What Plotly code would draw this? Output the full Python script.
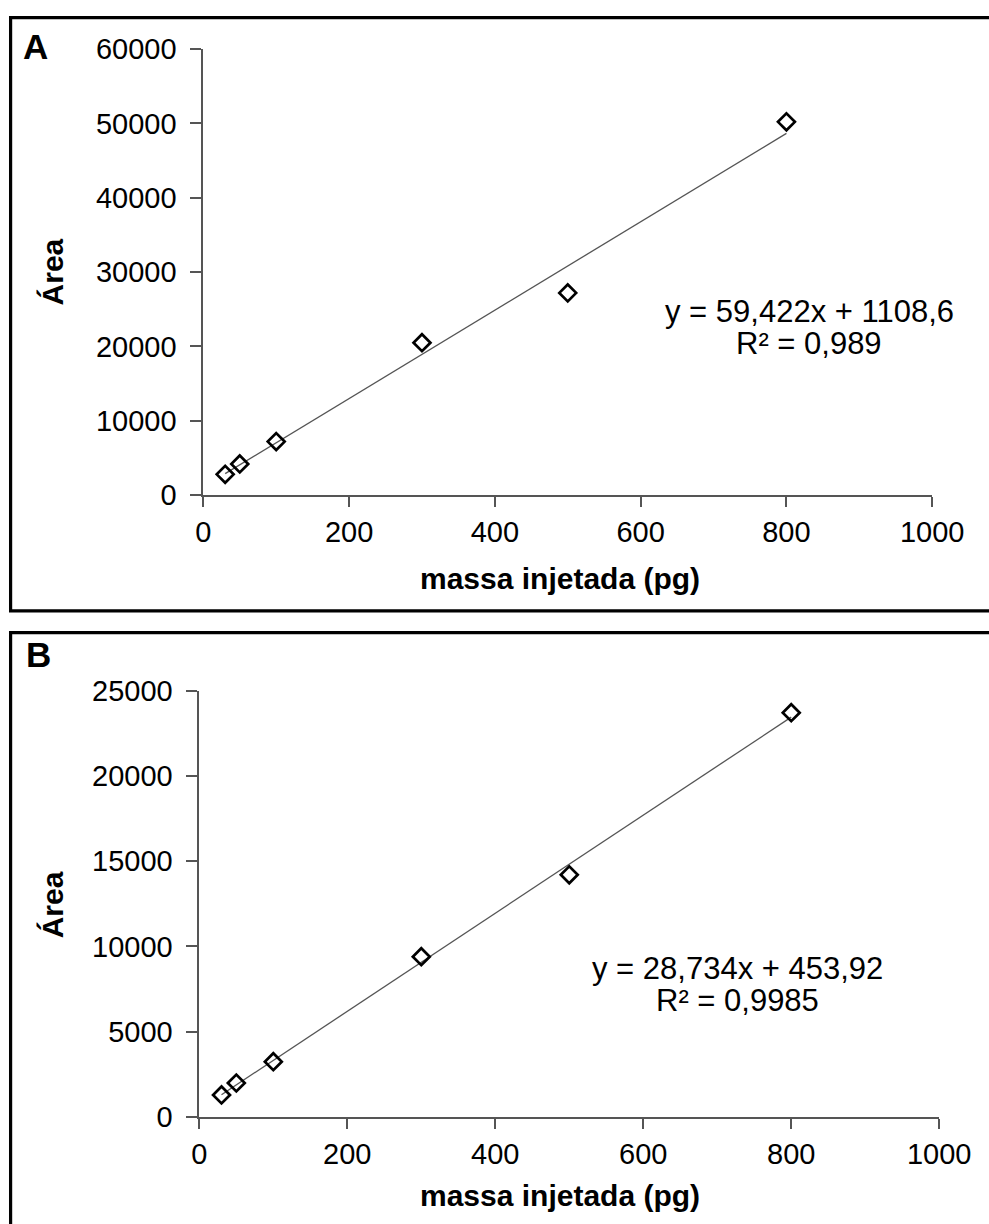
import plotly.graph_objects as go

# ---- data ----
mass_pg = [30, 50, 100, 300, 500, 800]
area_A = [2800, 4200, 7200, 20500, 27200, 50200]
area_B = [1300, 2000, 3250, 9400, 14200, 23700]
slope_A, intercept_A = 59.422, 1108.6
slope_B, intercept_B = 28.734, 453.92
eq_A = ["y = 59,422x + 1108,6", "R² = 0,989"]
eq_B = ["y = 28,734x + 453,92", "R² = 0,9985"]
x_ticks = [0, 200, 400, 600, 800, 1000]
y_ticks_A = [0, 10000, 20000, 30000, 40000, 50000, 60000]
y_ticks_B = [0, 5000, 10000, 15000, 20000, 25000]
x_title = "massa injetada (pg)"
y_title = "Área"
panel_labels = ["A", "B"]

W, H = 989, 1224
FONT = "Arial, Liberation Sans, sans-serif"

# target picture pixels -> paper fractions (the captured page is slightly offset/scaled)
def px(x):
    return ((x - 7.4) / 0.961) / W

def py(y):
    return 1 - ((y - 13.3) / 0.977) / H

fig = go.Figure()

fit_x = [mass_pg[0], mass_pg[-1]]
marker = dict(symbol="diamond-open", size=13, color="black", line=dict(width=2.7, color="black"))
line_style = dict(color="#555555", width=1.3)
# Panel A
fig.add_trace(go.Scatter(x=fit_x, y=[slope_A * v + intercept_A for v in fit_x], mode="lines",
                         line=line_style, xaxis="x", yaxis="y", showlegend=False))
fig.add_trace(go.Scatter(x=mass_pg, y=area_A, mode="markers", marker=marker,
                         xaxis="x", yaxis="y", showlegend=False))
# Panel B
fig.add_trace(go.Scatter(x=fit_x, y=[slope_B * v + intercept_B for v in fit_x], mode="lines",
                         line=line_style, xaxis="x2", yaxis="y2", showlegend=False))
fig.add_trace(go.Scatter(x=mass_pg, y=area_B, mode="markers", marker=marker,
                         xaxis="x2", yaxis="y2", showlegend=False))

axis_common = dict(showgrid=False, zeroline=False, showline=True, linecolor="#555555", linewidth=1.7,
                   ticks="outside", tickcolor="#555555", tickwidth=1.7, tickformat="d",
                   ticklabeloverflow="allow",
                   tickfont=dict(family=FONT, size=29, color="black"))

fig.update_layout(
    width=W, height=H, autosize=False,
    margin=dict(l=0, r=0, t=0, b=0),
    paper_bgcolor="white", plot_bgcolor="white",
    xaxis=dict(domain=[px(203), px(933)], range=[0, 1000], tickvals=x_ticks, ticklen=10,
               anchor="y", ticklabelstandoff=0, **axis_common),
    yaxis=dict(domain=[py(494), py(46.4)], range=[0, 60000], tickvals=y_ticks_A, ticklen=11,
               anchor="x", ticklabelstandoff=8, **axis_common),
    xaxis2=dict(domain=[px(199), px(940)], range=[0, 1000], tickvals=x_ticks, ticklen=10,
                anchor="y2", ticklabelstandoff=0, **axis_common),
    yaxis2=dict(domain=[py(1118), py(690)], range=[0, 25000], tickvals=y_ticks_B, ticklen=11,
                anchor="x2", ticklabelstandoff=8, **axis_common),
)

def note(text, x, y, size, angle=0):
    return dict(text=text, x=px(x), y=py(y), xref="paper", yref="paper", showarrow=False,
                xanchor="center", yanchor="middle", align="center", textangle=angle,
                font=dict(family=FONT, size=size, color="black"))

ann = [
    note("<b>%s</b>" % panel_labels[0], 35, 44, 35),
    note("<b>%s</b>" % panel_labels[1], 38, 654, 35),
    note("<b>%s</b>" % x_title, 560, 578, 30),
    note("<b>%s</b>" % x_title, 560, 1197, 30),
    note("<b>%s</b>" % y_title, 52, 270, 30, -90),
    note("<b>%s</b>" % y_title, 52, 905, 30, -90),
    note(eq_A[0], 810, 310, 31),
    note(eq_A[1], 810, 342, 31),
    note(eq_B[0], 738, 969, 31),
    note(eq_B[1], 738, 1001, 31),
]
fig.update_layout(annotations=ann)

# panel frames (right/bottom edges fall outside the picture)
fig.add_shape(type="rect", xref="paper", yref="paper", x0=px(10), x1=px(1060), y0=py(610), y1=py(15),
              line=dict(color="black", width=3.2), fillcolor="rgba(0,0,0,0)")
fig.add_shape(type="rect", xref="paper", yref="paper", x0=px(10), x1=px(1060), y0=py(1300), y1=py(632),
              line=dict(color="black", width=3.2), fillcolor="rgba(0,0,0,0)")

fig.write_html("out.html")
